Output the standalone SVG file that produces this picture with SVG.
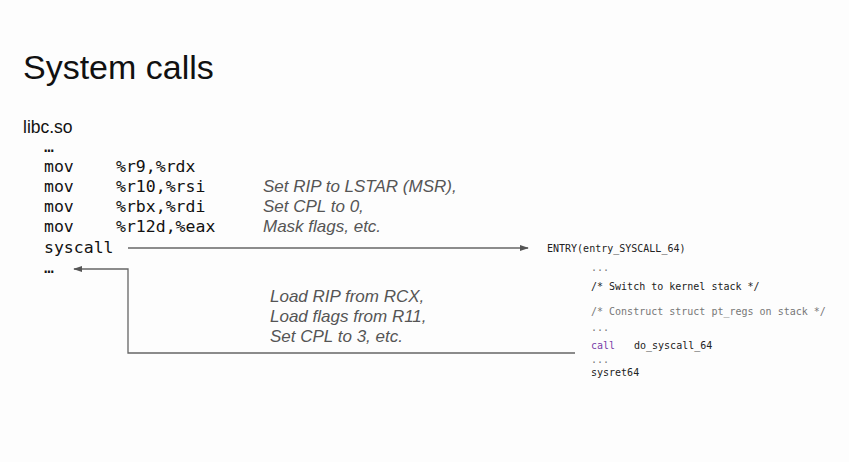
<svg xmlns="http://www.w3.org/2000/svg" width="849" height="462" viewBox="0 0 849 462">
<defs>
<style>
.title{font-family:"Liberation Sans",Arial,sans-serif;font-size:34px;fill:#111}
.sans{font-family:"Liberation Sans",Arial,sans-serif;font-size:17.5px;fill:#111}
.mono{font-family:"DejaVu Sans Mono","Liberation Mono",monospace;font-size:16.5px;fill:#111}
.note{font-family:"Liberation Sans",Arial,sans-serif;font-size:17px;font-style:italic;fill:#555}
.k{font-family:"DejaVu Sans Mono","Liberation Mono",monospace;font-size:10px;fill:#222}
.kc{fill:#777}
.kp{fill:#7a3fa8}
.conn{fill:none;stroke:#666;stroke-width:1.3}
</style>
<marker id="ah" viewBox="0 0 10 10" refX="9" refY="5" markerWidth="9" markerHeight="9" markerUnits="userSpaceOnUse" orient="auto">
<path d="M0,1.5 L10,5 L0,8.5 z" fill="#555"/>
</marker>
</defs>
<rect width="849" height="462" fill="#fdfdfd"/>
<text class="title" x="23" y="79">System calls</text>
<g id="libc">
<text class="sans" x="23" y="133">libc.so</text>
<text class="mono" x="44" y="152">…</text>
<text class="mono" x="44" y="172">mov</text><text class="mono" x="116" y="172">%r9,%rdx</text>
<text class="mono" x="44" y="192">mov</text><text class="mono" x="116" y="192">%r10,%rsi</text>
<text class="mono" x="44" y="212">mov</text><text class="mono" x="116" y="212">%rbx,%rdi</text>
<text class="mono" x="44" y="232">mov</text><text class="mono" x="116" y="232">%r12d,%eax</text>
<text class="mono" x="44" y="253">syscall</text>
<text class="mono" x="44" y="273">…</text>
</g>
<g id="note-enter">
<text class="note" x="263" y="192">Set RIP to LSTAR (MSR),</text>
<text class="note" x="263" y="212">Set CPL to 0,</text>
<text class="note" x="263" y="232">Mask flags, etc.</text>
</g>
<g id="kernel">
<text class="k" x="547" y="252">ENTRY(entry_SYSCALL_64)</text>
<text class="k kc" x="591" y="271">...</text>
<text class="k" x="591" y="290">/* Switch to kernel stack */</text>
<text class="k kc" x="591" y="315">/* Construct struct pt_regs on stack */</text>
<text class="k kc" x="591" y="331">...</text>
<text class="k kp" x="591" y="349">call</text><text class="k" x="634" y="349">do_syscall_64</text>
<text class="k kc" x="591" y="363">...</text>
<text class="k" x="591" y="376">sysret64</text>
</g>
<g id="note-return">
<text class="note" x="270" y="302">Load RIP from RCX,</text>
<text class="note" x="270" y="322">Load flags from R11,</text>
<text class="note" x="270" y="342">Set CPL to 3, etc.</text>
</g>
<g id="connectors">
<path class="conn" d="M128,248 H528" marker-end="url(#ah)"/>
<path class="conn" d="M575,353 H128 V269 H74" marker-end="url(#ah)"/>
</g>
</svg>
